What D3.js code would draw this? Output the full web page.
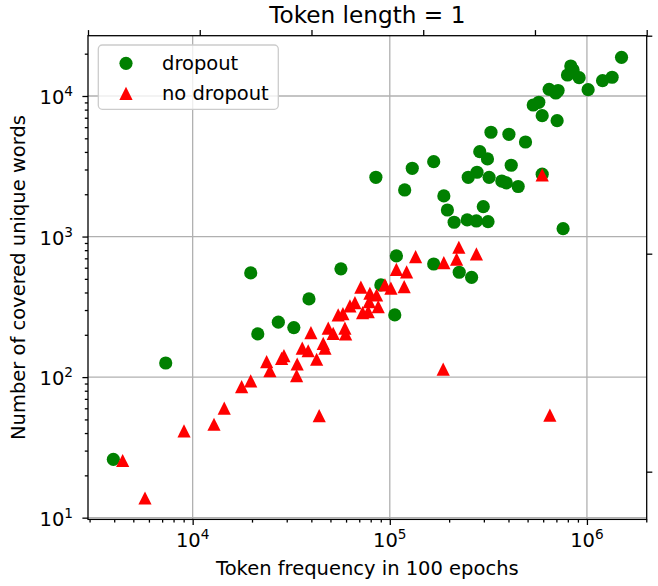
<!DOCTYPE html>
<html><head><meta charset="utf-8">
<script src="https://cdn.jsdelivr.net/npm/d3@7"></script>
<style>body{margin:0;background:#fff} svg{display:block} text{font-family:"DejaVu Sans",sans-serif;fill:#000}</style>
</head><body><svg id="c" width="658" height="586"></svg>
<script>
// ---- data ----
const dropoutFreq = [3960,7300,19700,21400,27200,32600,38900,56500,85000,90100,106000,108000,119000,130000,167000,167000,188000,196000,212000,225000,247000,250000,260000,275000,277000,286000,298000,315000,313000,319000,326000,370000,390000,402000,413000,448000,488000,534000,570000,593000,593000,643000,695000,714000,706000,757000,797000,828000,851000,913000,1014000,1200000,1342000,1498000];
const dropoutWords = [26,126,551,203,246,225,360,589,2640,453,277,728,2145,3060,3410,638,1945,1545,1264,557,1313,2640,513,1291,2867,4018,1632,1276,3565,2637,5520,2483,2406,5340,3215,2271,4708,8630,9020,7245,2776,11160,10500,10940,6672,1138,14100,16350,15310,13500,11090,12850,13590,18850];
const noDropoutFreq = [4415,5730,9040,12830,14460,17720,19700,23730,24660,28270,29040,33900,33680,35960,38550,39800,42550,43850,45950,46900,48720,51640,54730,59200,59700,57840,62770,66540,71340,72790,77710,79260,78640,85710,87350,94480,101300,108000,118300,121700,135200,186600,188000,218200,224000,275000,593000,648600];
const noDropoutWords = [25.5,13.8,41.4,46.2,60.1,85.6,94,129,111,136,142,124,102.5,161,154,207,134,53.2,174,161,223,205,277,223,203,283,321,339,436,288,292,395,344,384,317,453,429,585,440,560,719,114,652,690,839,752,2743,53.6];
const xMajor = [1e4,1e5,1e6];
const xMajorExp = ["4","5","6"];
const yMajor = [10,100,1000,10000];
const yMajorExp = ["1","2","3","4"];
const topMajor = [1,10,100,1000,10000,100000];
const rightMajor = [10,100,1000];
const seriesNames = ["dropout","no dropout"];
const title = "Token length = 1";
const xLabel = "Token frequency in 100 epochs";
const yLabel = "Number of covered unique words";

// ---- layout ----
const L=88, R=646.7, T=35.7, B=519.4;
const FS=19.5;
const svg=d3.select("#c");
const x=d3.scaleLog().domain([2945,2.01e6]).range([L,R]);
const y=d3.scaleLog().domain([9.72,26850]).range([B,T]);
const xTop=d3.scaleLog().domain([1,1e5]).range([L,R]);
const yRight=d3.scaleLog().domain([6.04,1000]).range([B,T]);

function minors(lo,hi){const out=[];for(let e=Math.floor(Math.log10(lo));e<=Math.ceil(Math.log10(hi));e++){for(let k=2;k<=9;k++){const v=k*Math.pow(10,e);if(v>=lo&&v<=hi)out.push(v);}}return out;}

// grid
const grid=svg.append("g").attr("stroke","#b0b0b0").attr("stroke-width",1.29);
grid.selectAll("line.gx").data(xMajor).join("line").attr("x1",d=>x(d)).attr("x2",d=>x(d)).attr("y1",T).attr("y2",B);
grid.selectAll("line.gy").data(yMajor).join("line").attr("class","gy").attr("y1",d=>y(d)).attr("y2",d=>y(d)).attr("x1",L).attr("x2",R);

// markers
const r=6.6;
svg.append("g").selectAll("circle").data(dropoutFreq.map((f,i)=>[f,dropoutWords[i]])).join("circle")
  .attr("cx",d=>x(d[0])).attr("cy",d=>y(d[1])).attr("r",r).attr("fill","#008000");
svg.append("g").selectAll("path").data(noDropoutFreq.map((f,i)=>[f,noDropoutWords[i]])).join("path")
  .attr("d",d=>{const cx=x(d[0]),cy=y(d[1]);return `M${cx},${cy-r}L${cx+r},${cy+r}L${cx-r},${cy+r}Z`;}).attr("fill","#ff0000");

// axes ticks
function strip(g){g.select(".domain").remove();g.selectAll(".tick line").attr("stroke","#000").attr("stroke-width",1.29);g.selectAll(".tick text").remove();}
svg.append("g").attr("transform",`translate(0,${B})`).call(d3.axisBottom(x).tickValues(xMajor).tickSizeInner(5.6).tickSizeOuter(0)).call(strip);
svg.append("g").attr("transform",`translate(0,${B})`).call(d3.axisBottom(x).tickValues(minors(2945,2.01e6)).tickSizeInner(3.2).tickSizeOuter(0)).call(strip);
svg.append("g").attr("transform",`translate(${L},0)`).call(d3.axisLeft(y).tickValues(yMajor).tickSizeInner(5.6).tickSizeOuter(0)).call(strip);
svg.append("g").attr("transform",`translate(${L},0)`).call(d3.axisLeft(y).tickValues(minors(9.72,26850)).tickSizeInner(3.2).tickSizeOuter(0)).call(strip);
svg.append("g").attr("transform",`translate(0,${T})`).call(d3.axisTop(xTop).tickValues(topMajor).tickSizeInner(5.6).tickSizeOuter(0)).call(strip);
svg.append("g").attr("transform",`translate(${R},0)`).call(d3.axisRight(yRight).tickValues(rightMajor).tickSizeInner(5.6).tickSizeOuter(0)).call(strip);

// spines
svg.append("rect").attr("x",L).attr("y",T).attr("width",R-L).attr("height",B-T).attr("fill","none").attr("stroke","#000").attr("stroke-width",1.29);

// tick labels
const xl=svg.append("g");
xMajor.forEach((v,i)=>{const t=xl.append("text").attr("x",x(v)).attr("y",547).attr("text-anchor","middle").attr("font-size",FS);
  t.append("tspan").text("10");t.append("tspan").attr("font-size",FS*0.7).attr("dy",-8).text(xMajorExp[i]);});
yMajor.forEach((v,i)=>{const t=xl.append("text").attr("x",73).attr("y",y(v)+8).attr("text-anchor","end").attr("font-size",FS);
  t.append("tspan").text("10");t.append("tspan").attr("font-size",FS*0.7).attr("dy",-8).text(yMajorExp[i]);});

// labels
svg.append("text").attr("x",(L+R)/2).attr("y",23).attr("text-anchor","middle").attr("font-size",23.2).text(title);
svg.append("text").attr("x",(L+R)/2).attr("y",575).attr("text-anchor","middle").attr("font-size",FS).text(xLabel);
svg.append("text").attr("transform",`translate(25,${(T+B)/2}) rotate(-90)`).attr("text-anchor","middle").attr("font-size",FS).text(yLabel);

// legend
const lg=svg.append("g");
lg.append("rect").attr("x",98.3).attr("y",45).attr("width",180).attr("height",64.3).attr("rx",4).attr("fill","#fff").attr("fill-opacity",0.8).attr("stroke","#cccccc").attr("stroke-width",1.29);
const ly=[63.3,93.3];
lg.append("circle").attr("cx",126).attr("cy",ly[0]).attr("r",r).attr("fill","#008000");
lg.append("path").attr("d",`M126,${ly[1]-r}L${126+r},${ly[1]+r}L${126-r},${ly[1]+r}Z`).attr("fill","#ff0000");
seriesNames.forEach((s,i)=>lg.append("text").attr("x",162).attr("y",ly[i]+7).attr("font-size",FS).text(s));
</script></body></html>
